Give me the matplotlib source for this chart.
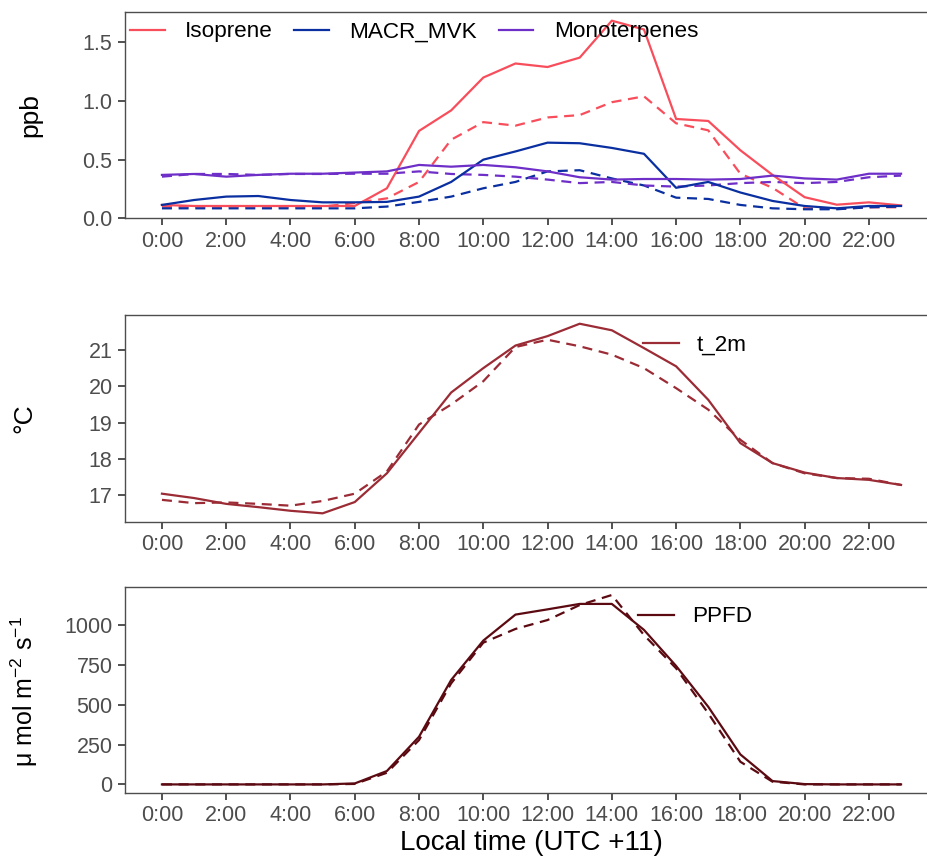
import matplotlib
matplotlib.use('Agg')
import matplotlib.pyplot as plt
from matplotlib.lines import Line2D

plt.rcParams['font.family'] = ['Liberation Sans', 'DejaVu Sans']
plt.rcParams['mathtext.default'] = 'regular'

# horas del día
hours = list(range(24))
tick_hours = list(range(0, 24, 2))
tick_labels = [f"{h}:00" for h in tick_hours]

# ppb (solido = modelo / discontinuo = observado)
isoprene = [0.114, 0.105, 0.105, 0.105, 0.105, 0.105, 0.105, 0.256, 0.745, 0.92, 1.20, 1.32,
            1.29, 1.37, 1.685, 1.61, 0.847, 0.83, 0.58, 0.37, 0.18, 0.116, 0.136, 0.11]
isoprene_dash = [0.10, 0.10, 0.10, 0.10, 0.10, 0.10, 0.13, 0.17, 0.31, 0.67, 0.82, 0.79,
                 0.86, 0.88, 0.99, 1.04, 0.81, 0.75, 0.38, 0.26, 0.085, 0.08, 0.094, 0.094]
macr = [0.114, 0.156, 0.185, 0.19, 0.156, 0.136, 0.136, 0.14, 0.185, 0.31, 0.50, 0.57,
        0.645, 0.64, 0.60, 0.55, 0.26, 0.31, 0.22, 0.148, 0.105, 0.085, 0.105, 0.105]
macr_dash = [0.085, 0.085, 0.085, 0.085, 0.085, 0.085, 0.085, 0.10, 0.14, 0.185, 0.256, 0.31,
             0.40, 0.41, 0.34, 0.28, 0.176, 0.165, 0.114, 0.085, 0.077, 0.077, 0.094, 0.10]
mono = [0.37, 0.378, 0.355, 0.37, 0.38, 0.38, 0.39, 0.40, 0.455, 0.44, 0.455, 0.435,
        0.40, 0.35, 0.33, 0.335, 0.335, 0.33, 0.335, 0.364, 0.34, 0.33, 0.38, 0.38]
mono_dash = [0.355, 0.378, 0.378, 0.37, 0.378, 0.378, 0.38, 0.38, 0.40, 0.378, 0.37, 0.355,
             0.33, 0.30, 0.31, 0.28, 0.27, 0.28, 0.30, 0.31, 0.30, 0.31, 0.35, 0.364]

# temperatura a 2 m
t2m = [17.05, 16.93, 16.77, 16.68, 16.58, 16.51, 16.82, 17.61, 18.72, 19.83, 20.5, 21.12,
       21.38, 21.72, 21.54, 21.05, 20.55, 19.63, 18.44, 17.89, 17.63, 17.48, 17.43, 17.29]
t2m_dash = [16.88, 16.79, 16.81, 16.77, 16.72, 16.85, 17.05, 17.66, 18.95, 19.5, 20.14, 21.08,
            21.28, 21.1, 20.87, 20.5, 19.95, 19.36, 18.53, 17.89, 17.61, 17.48, 17.46, 17.29]

# PPFD
ppfd = [0, 0, 0, 0, 0, 0, 6, 84, 299, 655, 902, 1065,
        1098, 1132, 1132, 969, 743, 487, 188, 21, 2, 0, 0, 0]
ppfd_dash = [0, 0, 0, 0, 0, 0, 3, 73, 278, 634, 889, 975,
             1031, 1125, 1188, 937, 728, 446, 142, 17, 0, 0, 0, 0]

C_ISO = '#F84E5C'
C_MACR = '#0A2FA0'
C_MONO = '#6E2FC8'
C_T2M = '#9B2B35'
C_PPFD = '#5C0A12'
DASH = (0, (4.5, 3))
LW = 1.6
TICK_FS = 15.5
LEG_FS = 16.2

W, H = 928, 861
fig = plt.figure(figsize=(W / 100, H / 100), dpi=100)


def make_axes(top, bottom, left=125, right=938):
    return fig.add_axes([left / W, 1 - bottom / H, (right - left) / W, (bottom - top) / H])


def style(ax):
    for sp in ax.spines.values():
        sp.set_color('#4D4D4D')
        sp.set_linewidth(1.0)
    ax.set_xlim(-1.15, 24.15)
    ax.set_xticks(tick_hours)
    ax.set_xticklabels(tick_labels)
    ax.tick_params(colors='#333333', labelcolor='#4D4D4D', labelsize=TICK_FS,
                   length=5, width=1.2, pad=4)


def single_legend(ax, color, label, x, y):
    ax.legend([Line2D([], [], color=color, lw=LW)], [label], frameon=False,
              loc='center left', bbox_to_anchor=(x / W, 1 - y / H),
              bbox_transform=fig.transFigure, fontsize=LEG_FS, handlelength=1.6,
              handletextpad=0.8, borderpad=0, borderaxespad=0)


ax1 = make_axes(12, 218.3)
ax1.plot(hours, isoprene_dash, color=C_ISO, lw=LW, linestyle=DASH)
ax1.plot(hours, macr_dash, color=C_MACR, lw=LW, linestyle=DASH)
ax1.plot(hours, mono_dash, color=C_MONO, lw=LW, linestyle=DASH)
ax1.plot(hours, isoprene, color=C_ISO, lw=LW)
ax1.plot(hours, macr, color=C_MACR, lw=LW)
ax1.plot(hours, mono, color=C_MONO, lw=LW)
ax1.set_ylim(0, 1.759)
ax1.set_yticks([0, 0.5, 1.0, 1.5])
ax1.set_yticklabels(['0.0', '0.5', '1.0', '1.5'])
style(ax1)
handles = [Line2D([], [], color=c, lw=LW) for c in (C_ISO, C_MACR, C_MONO)]
ax1.legend(handles, ['Isoprene', 'MACR_MVK', 'Monoterpenes'], ncol=3, frameon=False,
           loc='center left', bbox_to_anchor=(130 / W, 1 - 32 / H),
           bbox_transform=fig.transFigure, fontsize=LEG_FS, handlelength=1.55,
           handletextpad=0.9, columnspacing=0.95, borderpad=0, borderaxespad=0)

ax2 = make_axes(315, 521.7)
ax2.plot(hours, t2m_dash, color=C_T2M, lw=LW, linestyle=DASH)
ax2.plot(hours, t2m, color=C_T2M, lw=LW)
ax2.set_ylim(16.28, 21.96)
ax2.set_yticks([17, 18, 19, 20, 21])
style(ax2)
single_legend(ax2, C_T2M, 't_2m', 643, 345)

ax3 = make_axes(586.7, 792.7)
ax3.plot(hours, ppfd_dash, color=C_PPFD, lw=LW, linestyle=DASH)
ax3.plot(hours, ppfd, color=C_PPFD, lw=LW)
ax3.set_ylim(-52, 1240)
ax3.set_yticks([0, 250, 500, 750, 1000])
style(ax3)
single_legend(ax3, C_PPFD, 'PPFD', 638, 617)

# etiquetas de ejes
fig.text(30 / W, 1 - 115 / H, 'ppb', rotation=90, ha='center', va='center', fontsize=19)
fig.text(24 / W, 1 - 418 / H, '°C', rotation=90, ha='center', va='center', fontsize=19)
fig.text(24 / W, 1 - 691 / H, r'μ mol m$^{-2}$ s$^{-1}$', rotation=90,
         ha='center', va='center', fontsize=18)
fig.text(531 / W, 1 - 843 / H, 'Local time (UTC +11)', ha='center', va='center', fontsize=20)

fig.savefig('out.png', dpi=100)
